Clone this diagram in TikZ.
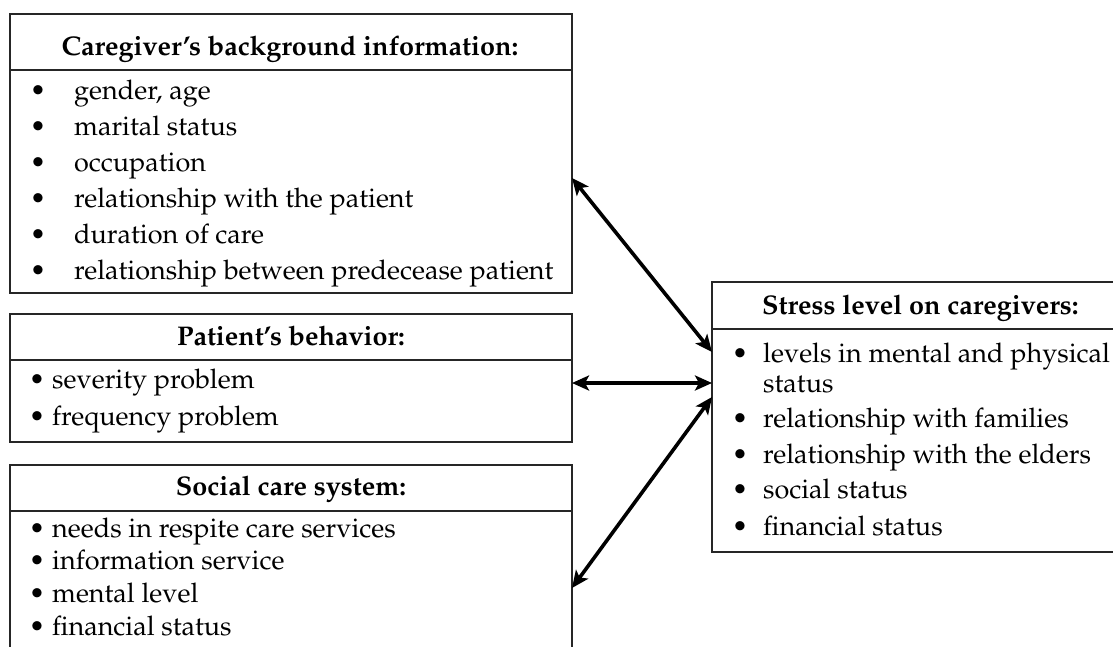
\documentclass[tikz,border=0pt]{standalone}
\usepackage[T1]{fontenc}
\renewcommand{\rmdefault}{ppl}
\usetikzlibrary{arrows.meta,calc}
\begin{document}
\begin{tikzpicture}[x=1pt,y=-1pt,
  frame/.style={draw=black!85, line width=1.2pt, inner sep=0pt, outer sep=0pt,
                anchor=north west, minimum width=#1},
  frame/.default=562pt,
  head/.style={font=\fontsize{27}{32}\selectfont\bfseries, inner sep=0pt, anchor=base},
  item/.style={font=\fontsize{27}{32}\selectfont, inner sep=0pt, anchor=base west},
  dot/.style={font=\fontsize{27}{32}\selectfont, inner sep=0pt, anchor=base},
  link/.style={line width=3.6pt,
    {Stealth[length=17pt,width=15pt,inset=4pt]}-{Stealth[length=17pt,width=15pt,inset=4pt]}}
]
\useasboundingbox (0,0) rectangle (1113,646);
\clip (0,0) rectangle (1113,646);

% ---- Caregiver's background information
\node[frame, minimum height=56pt]  (head1) at (10,14) {};
\node[frame, minimum height=223pt] (body1) at (10,70) {};
\node[head] (t1) at (290,55) {Caregiver's background information:};
\node[dot] (d11) at (38,99)  {\textbullet}; \node[item] (i11) at (74,99)  {gender, age};
\node[dot] (d12) at (38,135) {\textbullet}; \node[item] (i12) at (74,135) {marital status};
\node[dot] (d13) at (38,171) {\textbullet}; \node[item] (i13) at (74,171) {occupation};
\node[dot] (d14) at (38,207) {\textbullet}; \node[item] (i14) at (74,207) {relationship with the patient};
\node[dot] (d15) at (38,243) {\textbullet}; \node[item] (i15) at (74,243) {duration of care};
\node[dot] (d16) at (38,279) {\textbullet}; \node[item] (i16) at (74,279) {relationship between predecease patient};

% ---- Patient's behavior
\node[frame, minimum height=46pt] (head2) at (10,314) {};
\node[frame, minimum height=82pt] (body2) at (10,360) {};
\node[head] (t2) at (291,345) {Patient's behavior:};
\node[dot] (d21) at (37,388) {\textbullet}; \node[item] (i21) at (52,388) {severity problem};
\node[dot] (d22) at (37,425) {\textbullet}; \node[item] (i22) at (52,425) {frequency problem};

% ---- Social care system
\node[frame, minimum height=46pt]  (head3) at (10,465) {};
\node[frame, minimum height=170pt] (body3) at (10,511) {};
\node[head] (t3) at (291,495) {Social care system:};
\node[dot] (d31) at (37,537) {\textbullet}; \node[item] (i31) at (52,537) {needs in respite care services};
\node[dot] (d32) at (37,569) {\textbullet}; \node[item] (i32) at (52,569) {information service};
\node[dot] (d33) at (37,602) {\textbullet}; \node[item] (i33) at (52,602) {mental level};
\node[dot] (d34) at (37,635) {\textbullet}; \node[item] (i34) at (52,635) {financial status};

% ---- Stress level on caregivers
\node[frame=420pt, minimum height=47pt]  (head4) at (712,282) {};
\node[frame=420pt, minimum height=223pt] (body4) at (712,329) {};
\node[head, anchor=base west] (t4) at (762,314) {Stress level on caregivers:};
\node[dot] (d41) at (740,362) {\textbullet}; \node[item] (i41) at (763,362) {levels in mental and physical};
\node[item] (i41b) at (763,392) {status};
\node[dot] (d42) at (740,427) {\textbullet}; \node[item] (i42) at (763,427) {relationship with families};
\node[dot] (d43) at (740,463) {\textbullet}; \node[item] (i43) at (763,463) {relationship with the elders};
\node[dot] (d44) at (740,498) {\textbullet}; \node[item] (i44) at (763,498) {social status};
\node[dot] (d45) at (740,535) {\textbullet}; \node[item] (i45) at (763,535) {financial status};

% ---- two-way links between the factor boxes and the stress box
\coordinate (c1) at ($(body1.north east)+(0,108)$);
\coordinate (c2) at ($(body2.north east)+(0,23)$);
\coordinate (c3) at ($(body3.north east)+(0,77)$);
\coordinate (s1) at ($(body4.north west)+(0,23)$);
\coordinate (s2) at ($(body4.north west)+(0,54)$);
\coordinate (s3) at ($(body4.north west)+(0,68)$);
\draw[link] (c1) -- (s1);
\draw[link] (c2) -- (s2);
\draw[link] (c3) -- (s3);
\end{tikzpicture}
\end{document}
